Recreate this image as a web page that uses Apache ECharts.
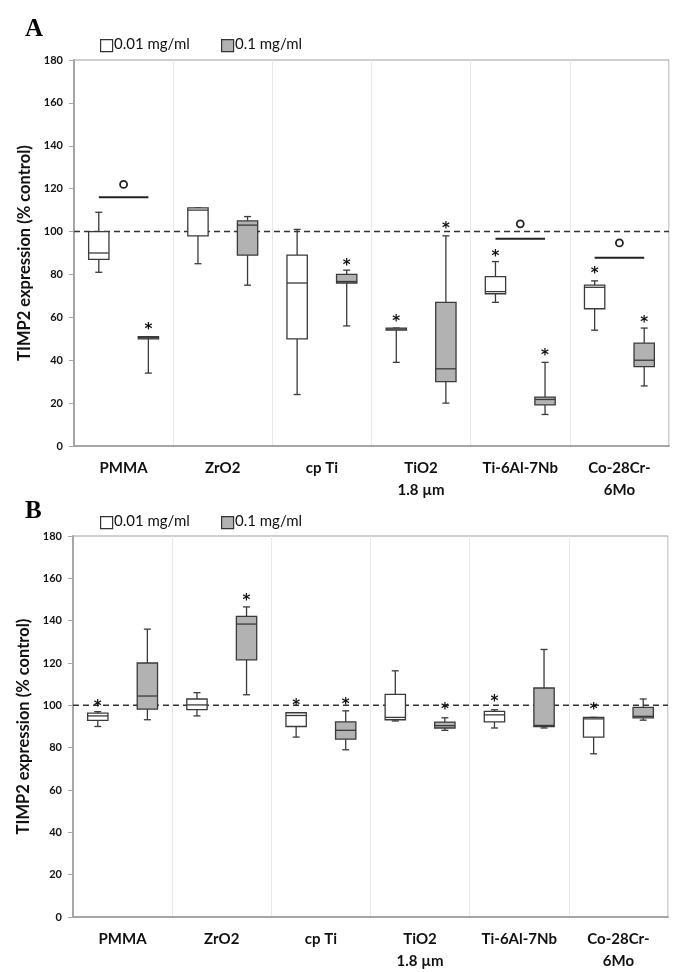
<!DOCTYPE html>
<html>
<head>
<meta charset="utf-8">
<script src="https://cdn.jsdelivr.net/npm/echarts@6/dist/echarts.min.js"></script>
<style>
html,body{margin:0;padding:0;background:#fff;}
#chart{width:688px;height:972px;}
</style>
</head>
<body>
<div id="chart"></div>
<script>
// ---------- data ----------
const categories = ['PMMA', 'ZrO2', 'cp Ti', 'TiO2\n1.8 µm', 'Ti-6Al-7Nb', 'Co-28Cr-\n6Mo'];
const doses = ['0.01 mg/ml', '0.1 mg/ml'];
const yAxisName = 'TIMP2 expression (% control)';
const panelLabels = ['A', 'B'];
const yMin = 0, yMax = 180, yStep = 20;
const refLevel = 100;

// box rows: [min, Q1, median, Q3, max]
const boxA_low  = [[81, 87, 90, 100, 109], [85, 98, 110, 111, 111], [24, 50, 76, 89, 101], [39, 54, 54.5, 55, 55], [67, 71, 72, 79, 86], [54, 64, 74, 75, 77]];
const boxA_high = [[34, 50, 50.5, 51, 51], [75, 89, 103, 105, 107], [56, 76, 76.7, 80, 82], [20, 30, 36, 67, 98], [14.7, 19.2, 21.7, 22.8, 39], [28, 37, 40, 48, 55]];
const boxB_low  = [[90, 92.9, 95, 96.3, 97], [95, 98, 100.2, 103, 106], [85, 90, 95.2, 96.5, 96.5], [92.6, 93.2, 94.3, 105.2, 116.3], [89.3, 92.2, 95.5, 97.1, 97.9], [77.1, 85, 93.6, 94.3, 94.3]];
const boxB_high = [[93.2, 98.2, 104.4, 120, 136], [105, 121.5, 138.4, 142, 146.5], [79, 84, 88.2, 92.2, 97.4], [88.2, 89.3, 90.4, 92.1, 94.1], [89.3, 90, 90.5, 108.2, 126.4], [93, 94.1, 94.8, 99, 103]];

// significance stars (value = height of star), null = none
const starA_low  = [null, null, null, 59.5, 90, 82];
const starA_high = [56, null, 85.7, 103, 43.6, 59.4];
const starB_low  = [101, null, 101.4, null, 103.3, 99.4];
const starB_high = [null, 151, 102.2, 99.6, null, null];

// between-dose comparison bar and circle marker
const sigBarA    = [116, null, null, null, 96.7, 87.8];
const sigCircleA = [122, null, null, null, 103.6, 94.7];

// ---------- helpers ----------
const FONT = 'Lato';
const boxStroke = '#3a3a3a';
const grayFill = '#b2b2b2';

function boxData(rows) { return rows.map((r, i) => [i].concat(r)); }
function starData(low, high) {
  const out = [];
  low.forEach((v, i) => { if (v != null) out.push([i, -1, v]); });
  high.forEach((v, i) => { if (v != null) out.push([i, 1, v]); });
  return out;
}
function sigData(bars, circles) {
  const out = [];
  bars.forEach((v, i) => { if (v != null) out.push([i, v, circles[i]]); });
  return out;
}

function boxRender(side, fill) {
  return function (params, api) {
    const cat = api.value(0);
    const band = api.size([1, 0])[0];
    const cx = api.coord([cat, 0])[0] + side * band / 4;
    const w = band * 0.205;
    const Y = k => api.coord([cat, api.value(k)])[1];
    const ymin = Y(1), yq1 = Y(2), ymed = Y(3), yq3 = Y(4), ymax = Y(5);
    const cap = 3.5;
    const ls = { stroke: boxStroke, lineWidth: 1.3 };
    return {
      type: 'group',
      children: [
        { type: 'line', shape: { x1: cx, y1: ymax, x2: cx, y2: yq3 }, style: ls },
        { type: 'line', shape: { x1: cx, y1: yq1, x2: cx, y2: ymin }, style: ls },
        { type: 'line', shape: { x1: cx - cap, y1: ymax, x2: cx + cap, y2: ymax }, style: ls },
        { type: 'line', shape: { x1: cx - cap, y1: ymin, x2: cx + cap, y2: ymin }, style: ls },
        { type: 'rect', shape: { x: cx - w / 2, y: yq3, width: w, height: Math.max(yq1 - yq3, 1.5) },
          style: { fill: fill, stroke: boxStroke, lineWidth: 1.3 } },
        { type: 'line', shape: { x1: cx - w / 2, y1: ymed, x2: cx + w / 2, y2: ymed }, style: ls }
      ]
    };
  };
}

function starRender(params, api) {
  const cat = api.value(0);
  const band = api.size([1, 0])[0];
  const cx = api.coord([cat, 0])[0] + api.value(1) * band / 4;
  const y = api.coord([cat, api.value(2)])[1];
  return {
    type: 'text',
    style: { text: '*', x: cx, y: y + 4, align: 'center', verticalAlign: 'middle',
             font: 'bold 15px "DejaVu Sans"', fill: '#111' }
  };
}

function sigRender(params, api) {
  const cat = api.value(0);
  const band = api.size([1, 0])[0];
  const c = api.coord([cat, 0])[0];
  const yl = api.coord([cat, api.value(1)])[1];
  const yc = api.coord([cat, api.value(2)])[1];
  return {
    type: 'group',
    children: [
      { type: 'line', shape: { x1: c - band / 4, y1: yl, x2: c + band / 4, y2: yl }, style: { stroke: '#222', lineWidth: 2 } },
      { type: 'circle', shape: { cx: c, cy: yc, r: 3.5 }, style: { fill: '#fff', stroke: '#222', lineWidth: 1.8 } }
    ]
  };
}

function refRender(params, api) {
  const cs = params.coordSys;
  const y = api.coord([0, api.value(1)])[1];
  return {
    type: 'line',
    shape: { x1: cs.x, y1: y, x2: cs.x + cs.width, y2: y },
    style: { stroke: '#333', lineWidth: 1.5, lineDash: [6, 4] }
  };
}

function xAxisFor(gi) {
  return {
    type: 'category', gridIndex: gi, data: categories, boundaryGap: true,
    axisTick: { show: false },
    axisLine: { lineStyle: { color: '#a6a6a6', width: 2 } },
    splitLine: { show: true, lineStyle: { color: '#e8e8e8', width: 1 } },
    axisLabel: { interval: 0, margin: 11, color: '#111', fontFamily: FONT, fontWeight: 'bold', fontSize: 15, lineHeight: 22 }
  };
}
function yAxisFor(gi) {
  return {
    type: 'value', gridIndex: gi, min: yMin, max: yMax, interval: yStep,
    name: yAxisName, nameLocation: 'middle', nameGap: 38,
    nameTextStyle: { color: '#111', fontFamily: FONT, fontWeight: 'bold', fontSize: 16.5 },
    axisLine: { show: true, lineStyle: { color: '#a6a6a6', width: 2 } },
    axisTick: { show: true, length: 5, lineStyle: { color: '#a6a6a6' } },
    splitLine: { show: false },
    axisLabel: { margin: 11, color: '#111', fontFamily: FONT, fontWeight: 'bold', fontSize: 11 }
  };
}

function panelSeries(gi, low, high, sLow, sHigh, bars, circles) {
  const s = [
    { type: 'custom', name: doses[0], xAxisIndex: gi, yAxisIndex: gi, renderItem: boxRender(-1, '#fff'),
      data: boxData(low), encode: { x: 0, y: [1, 2, 3, 4, 5] }, itemStyle: { color: '#fff' }, silent: true },
    { type: 'custom', name: doses[1], xAxisIndex: gi, yAxisIndex: gi, renderItem: boxRender(1, grayFill),
      data: boxData(high), encode: { x: 0, y: [1, 2, 3, 4, 5] }, itemStyle: { color: grayFill }, silent: true },
    { type: 'custom', xAxisIndex: gi, yAxisIndex: gi, renderItem: refRender,
      data: [[0, refLevel]], encode: { x: 0, y: 1 }, silent: true, z: 1 },
    { type: 'custom', xAxisIndex: gi, yAxisIndex: gi, renderItem: starRender,
      data: starData(sLow, sHigh), encode: { x: 0, y: 2 }, silent: true }
  ];
  if (bars) {
    s.push({ type: 'custom', xAxisIndex: gi, yAxisIndex: gi, renderItem: sigRender,
      data: sigData(bars, circles), encode: { x: 0, y: [1, 2] }, silent: true });
  }
  return s;
}

function legendGraphics(topY) {
  const g = [];
  const xs = [100, 221];
  doses.forEach((d, i) => {
    g.push({ type: 'rect', left: xs[i], top: topY, shape: { width: 12, height: 12 },
      style: { fill: i === 0 ? '#fff' : grayFill, stroke: '#333', lineWidth: 1.2 } });
    g.push({ type: 'text', left: xs[i] + 14, top: topY - 2,
      style: { text: d, font: '15px ' + FONT, fill: '#111' } });
  });
  return g;
}

const chart = echarts.init(document.getElementById('chart'), null, { renderer: 'canvas' });
chart.setOption({
  animation: false,
  backgroundColor: '#fff',
  grid: [
    { left: 74, top: 60, width: 595, height: 386, show: true, borderColor: '#a0a0a0', borderWidth: 1 },
    { left: 73, top: 536, width: 595, height: 385, show: true, borderColor: '#a0a0a0', borderWidth: 1 }
  ],
  xAxis: [xAxisFor(0), xAxisFor(1)],
  yAxis: [yAxisFor(0), yAxisFor(1)],
  series: []
    .concat(panelSeries(0, boxA_low, boxA_high, starA_low, starA_high, sigBarA, sigCircleA))
    .concat(panelSeries(1, boxB_low, boxB_high, starB_low, starB_high, null, null)),
  graphic: [
    { type: 'text', left: 25, top: 17, style: { text: panelLabels[0], font: 'bold 25px "Liberation Serif"', fill: '#000' } },
    { type: 'text', left: 25, top: 499, style: { text: panelLabels[1], font: 'bold 25px "Liberation Serif"', fill: '#000' } }
  ].concat(legendGraphics(39)).concat(legendGraphics(516))
});
</script>
</body>
</html>
